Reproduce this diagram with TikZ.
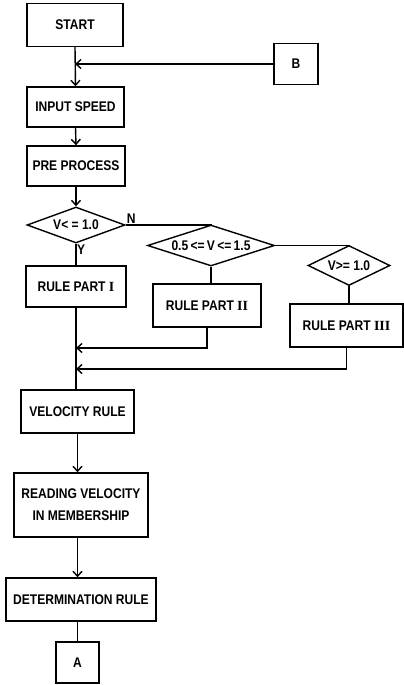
\documentclass[tikz,border=0pt]{standalone}
\usepackage{fontspec}
\setmainfont[FakeStretch=0.86]{Liberation Sans}
\newfontfamily\romfont{Liberation Serif}
\usetikzlibrary{shapes.geometric,arrows.meta,positioning,calc}

\newcommand{\partnum}[1]{{\romfont\bfseries #1}}

\tikzset{
    flowtext/.style={font=\bfseries\fontsize{14}{22}\selectfont},
    procbox/.style={draw, line width=1.4pt, inner sep=0pt, align=center, flowtext},
    decbox/.style={draw, diamond, line width=1.4pt, inner sep=0pt, flowtext},
    flowline/.style={line width=1.4pt},
    flowarrow/.style={flowline, -{Straight Barb[length=5pt,width=9pt]}}
}

\begin{document}
\begin{tikzpicture}[x=1pt, y=-1pt]
    \useasboundingbox (0,0) rectangle (404,685);

    % main column
    \node[procbox, minimum width=96pt, minimum height=43pt] (start) at (75,25) {START};
    \node[procbox, minimum width=44pt, minimum height=41pt] (conB) at (296,64) {B};
    \node[procbox, minimum width=97pt, minimum height=40pt] (input) at (75.5,107) {INPUT SPEED};
    \node[procbox, minimum width=98pt, minimum height=40pt] (pre) at (76,166) {PRE PROCESS};

    % decisions
    \node[decbox, aspect=2.65, minimum width=98pt, minimum height=36pt] (dec1) at (76,225) {V< = 1.0};
    \node[decbox, aspect=3.1, minimum width=127pt, minimum height=41pt] (dec2) at (211,245.5) {0.5\,<=\,V\,<=\,1.5};
    \node[decbox, aspect=2.05, minimum width=82pt, minimum height=40pt] (dec3) at (349,265.5) {V>= 1.0};

    % rule parts
    \node[procbox, minimum width=100pt, minimum height=41pt] (rule1) at (76,286.5) {RULE PART \partnum{I}};
    \node[procbox, minimum width=108pt, minimum height=43pt] (rule2) at (207,305.5) {RULE PART \partnum{II}};
    \node[procbox, minimum width=113pt, minimum height=43pt] (rule3) at (346.5,325.5) {RULE PART \partnum{III}};

    \node[procbox, minimum width=113pt, minimum height=43pt] (velo) at (77.5,411.5) {VELOCITY RULE};
    \node[procbox, minimum width=134pt, minimum height=64pt] (reading) at (81,505) {READING VELOCITY\\IN MEMBERSHIP};
    \node[procbox, minimum width=150pt, minimum height=43pt] (determ) at (81,599.5) {DETERMINATION RULE};
    \node[procbox, minimum width=43pt, minimum height=41pt] (conA) at (77.5,662.5) {A};

    % connectors
    \coordinate (joinB) at (start.south |- conB.west);
    \draw[flowarrow] (start.south) -- (input.north);
    \draw[flowarrow] (conB.west) -- (joinB);
    \draw[flowarrow] (input.south) -- (pre.north);
    \draw[flowarrow] (pre.south) -- (dec1.north);

    \draw[flowline] (dec1.south) -- (rule1.north);
    \draw[flowline] (dec1.east) -- (dec1.east -| dec2.north) -- (dec2.north);
    \draw[flowline] (dec2.east) -- (dec2.east -| dec3.north) -- (dec3.north);
    \draw[flowline] (dec2.south) -- (dec2.south |- rule2.north);
    \draw[flowline] (dec3.south) -- (dec3.south |- rule3.north);
    \node[flowtext, anchor=south west, inner sep=1pt] (labN) at (dec1.east) {N};
    \node[flowtext, anchor=north west, inner sep=1pt] (labY) at (dec1.south) {Y};

    \coordinate (join2) at (76,348);
    \coordinate (join3) at (76,369);
    \draw[flowline] (rule1.south) -- (rule1.south |- velo.north);
    \draw[flowarrow] (rule2.south) -- (rule2.south |- join2) -- (join2);
    \draw[flowarrow] (rule3.south) -- (rule3.south |- join3) -- (join3);

    \draw[flowarrow] (velo.south) -- (velo.south |- reading.north);
    \draw[flowarrow] (velo.south |- reading.south) -- (velo.south |- determ.north);
    \draw[flowline] (conA.north |- determ.south) -- (conA.north);
\end{tikzpicture}
\end{document}
